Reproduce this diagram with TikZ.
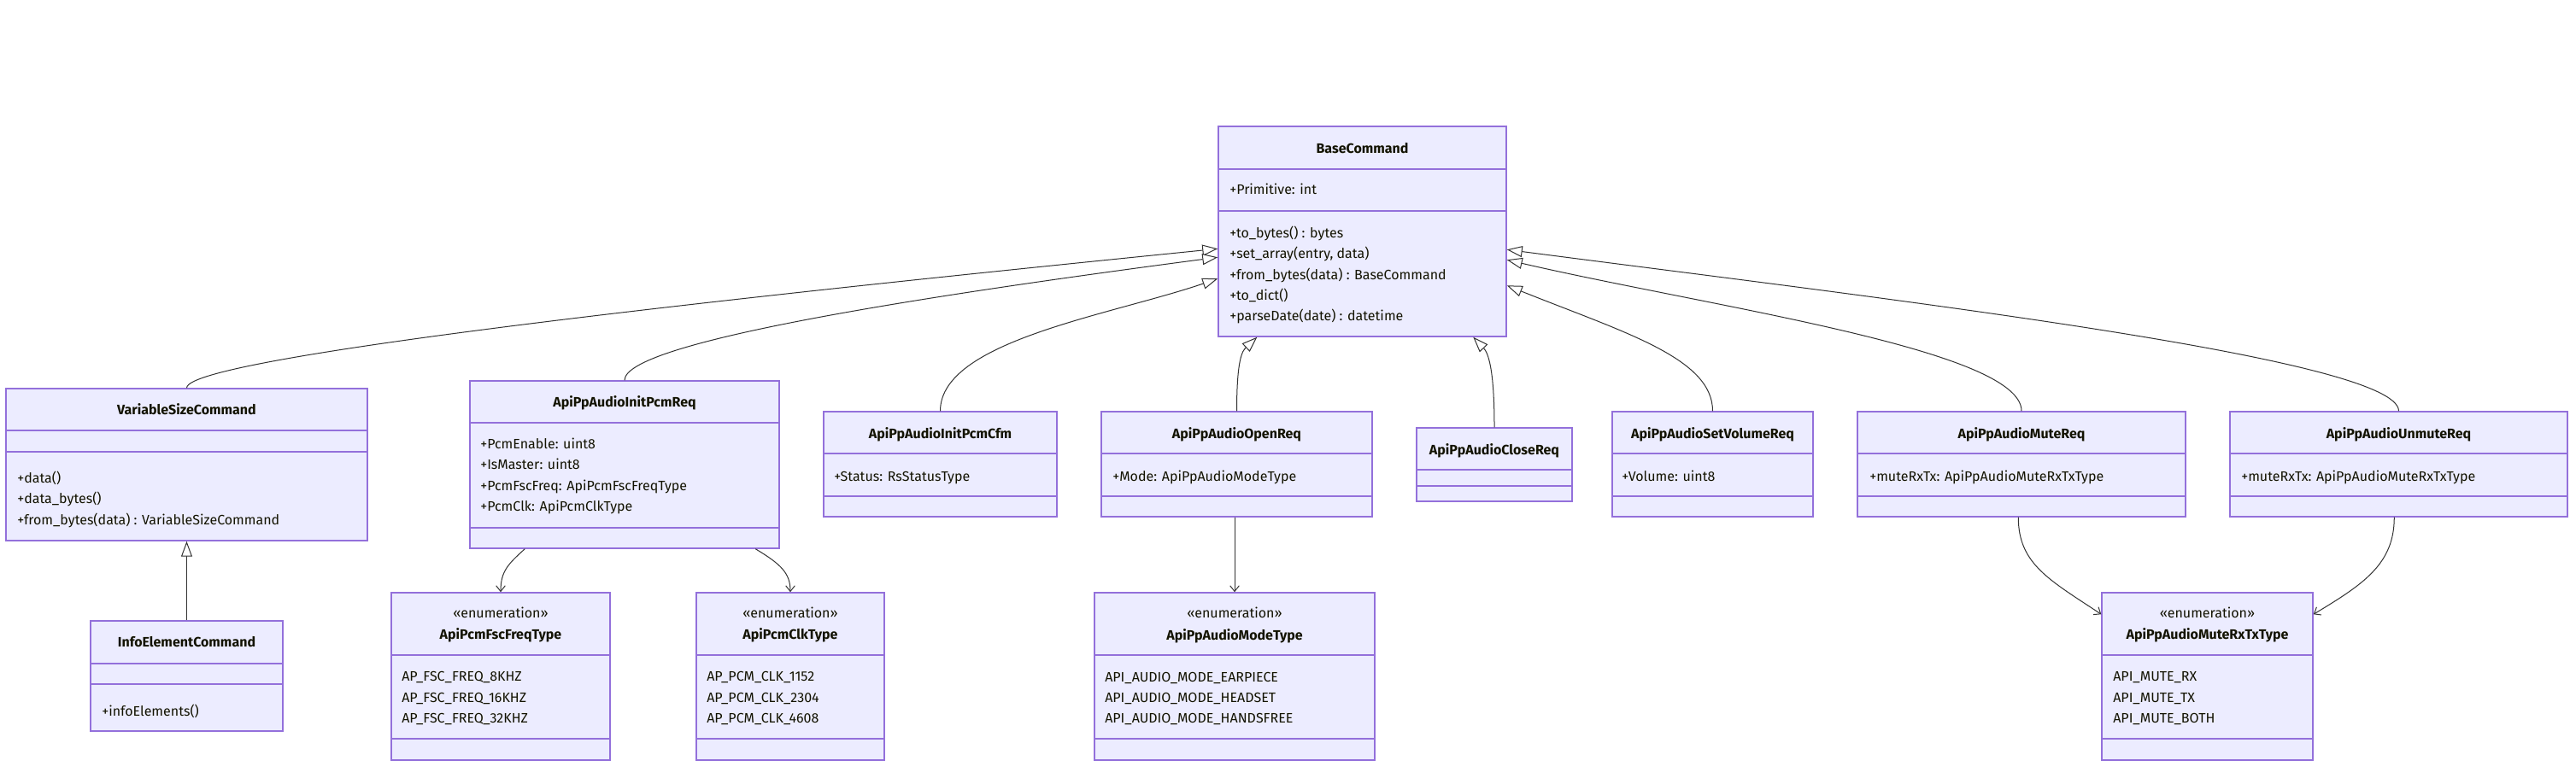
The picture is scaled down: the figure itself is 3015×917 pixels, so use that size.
\documentclass[tikz,border=0pt]{standalone}
\usepackage{fontspec}
\setmainfont{Fira Sans}
\usetikzlibrary{arrows.meta,fit,calc}
\definecolor{boxfill}{HTML}{ECECFF}
\definecolor{boxdraw}{HTML}{9370DB}
\definecolor{edgec}{HTML}{333333}
\definecolor{txt}{HTML}{131300}
\newcommand\dfont{\fontsize{12pt}{14.4pt}\selectfont}
\begin{document}
\begin{tikzpicture}[x=0.75pt,y=-0.75pt,
  cls/.style={draw=boxdraw,fill=boxfill,line width=1.1pt,inner sep=0pt},
  divl/.style={draw=boxdraw,line width=1.1pt},
  ttl/.style={font=\dfont\bfseries,text=txt,inner sep=0pt,anchor=base},
  stereo/.style={font=\dfont,text=txt,inner sep=0pt,anchor=base},
  mem/.style={font=\dfont,text=txt,inner sep=0pt,anchor=base west},
  inh/.style={draw=edgec,line width=0.75pt,-{Triangle[open,fill=white,length=13.5pt,width=9.75pt]}},
  assoc/.style={draw=edgec,line width=0.75pt,-{Straight Barb[length=5pt,width=8pt]}}]
\useasboundingbox[fill=white] (0,0) rectangle (3015,917);

% ---------- BaseCommand
\node[cls,fit={(1426,148) (1763,394)}] (base) {};
\draw[divl] (1426,198) -- (1763,198);
\draw[divl] (1426,247) -- (1763,247);
\node[ttl] (baseT) at (1594.5,179) {BaseCommand};
\node[mem] (baseA) at (1439,227) {+Primitive: int};
\node[mem] (baseM1) at (1439,278) {+to\_bytes() : bytes};
\node[mem] (baseM2) at (1439,302) {+set\_array(entry, data)};
\node[mem] (baseM3) at (1439,327) {+from\_bytes(data) : BaseCommand};
\node[mem] (baseM4) at (1439,351) {+to\_dict()};
\node[mem] (baseM5) at (1439,375) {+parseDate(date) : datetime};

% ---------- VariableSizeCommand
\node[cls,fit={(7,455) (430,633)}] (vsc) {};
\draw[divl] (7,504) -- (430,504);
\draw[divl] (7,529) -- (430,529);
\node[ttl] (vscT) at (218.5,485) {VariableSizeCommand};
\node[mem] (vscM1) at (20,565) {+data()};
\node[mem] (vscM2) at (20,589) {+data\_bytes()};
\node[mem] (vscM3) at (20,614) {+from\_bytes(data) : VariableSizeCommand};

% ---------- InfoElementCommand
\node[cls,fit={(106,727) (331,856)}] (iec) {};
\draw[divl] (106,777) -- (331,777);
\draw[divl] (106,801) -- (331,801);
\node[ttl] (iecT) at (218.5,757) {InfoElementCommand};
\node[mem] (iecM1) at (119,838) {+infoElements()};

% ---------- ApiPpAudioInitPcmReq
\node[cls,fit={(550,446) (912,642)}] (ireq) {};
\draw[divl] (550,495) -- (912,495);
\draw[divl] (550,618) -- (912,618);
\node[ttl] (ireqT) at (731,476) {ApiPpAudioInitPcmReq};
\node[mem] (ireqA1) at (562,525) {+PcmEnable: uint8};
\node[mem] (ireqA2) at (562,549) {+IsMaster: uint8};
\node[mem] (ireqA3) at (562,574) {+PcmFscFreq: ApiPcmFscFreqType};
\node[mem] (ireqA4) at (562,598) {+PcmClk: ApiPcmClkType};

% ---------- ApiPcmFscFreqType
\node[cls,fit={(458,694) (714,890)}] (fsc) {};
\draw[divl] (458,767) -- (714,767);
\draw[divl] (458,865) -- (714,865);
\node[stereo] (fscS) at (586,723) {«enumeration»};
\node[ttl] (fscT) at (586,748) {ApiPcmFscFreqType};
\node[mem] (fscV1) at (470,797) {AP\_FSC\_FREQ\_8KHZ};
\node[mem] (fscV2) at (470,822) {AP\_FSC\_FREQ\_16KHZ};
\node[mem] (fscV3) at (470,846) {AP\_FSC\_FREQ\_32KHZ};

% ---------- ApiPcmClkType
\node[cls,fit={(815,694) (1035,890)}] (clk) {};
\draw[divl] (815,767) -- (1035,767);
\draw[divl] (815,865) -- (1035,865);
\node[stereo] (clkS) at (925,723) {«enumeration»};
\node[ttl] (clkT) at (925,748) {ApiPcmClkType};
\node[mem] (clkV1) at (827,797) {AP\_PCM\_CLK\_1152};
\node[mem] (clkV2) at (827,822) {AP\_PCM\_CLK\_2304};
\node[mem] (clkV3) at (827,846) {AP\_PCM\_CLK\_4608};

% ---------- ApiPpAudioInitPcmCfm
\node[cls,fit={(964,482) (1237,605)}] (icfm) {};
\draw[divl] (964,531) -- (1237,531);
\draw[divl] (964,581) -- (1237,581);
\node[ttl] (icfmT) at (1100.5,513) {ApiPpAudioInitPcmCfm};
\node[mem] (icfmA1) at (976,563) {+Status: RsStatusType};

% ---------- ApiPpAudioOpenReq
\node[cls,fit={(1289,482) (1606,605)}] (open) {};
\draw[divl] (1289,531) -- (1606,531);
\draw[divl] (1289,581) -- (1606,581);
\node[ttl] (openT) at (1447.5,513) {ApiPpAudioOpenReq};
\node[mem] (openA1) at (1302,563) {+Mode: ApiPpAudioModeType};

% ---------- ApiPpAudioCloseReq
\node[cls,fit={(1658,501) (1840,587)}] (close) {};
\draw[divl] (1658,550) -- (1840,550);
\draw[divl] (1658,569) -- (1840,569);
\node[ttl] (closeT) at (1749,532) {ApiPpAudioCloseReq};

% ---------- ApiPpAudioModeType
\node[cls,fit={(1281,694) (1609,890)}] (mode) {};
\draw[divl] (1281,767) -- (1609,767);
\draw[divl] (1281,865) -- (1609,865);
\node[stereo] (modeS) at (1445,723) {«enumeration»};
\node[ttl] (modeT) at (1445,749) {ApiPpAudioModeType};
\node[mem] (modeV1) at (1293,798) {API\_AUDIO\_MODE\_EARPIECE};
\node[mem] (modeV2) at (1293,822) {API\_AUDIO\_MODE\_HEADSET};
\node[mem] (modeV3) at (1293,846) {API\_AUDIO\_MODE\_HANDSFREE};

% ---------- ApiPpAudioSetVolumeReq
\node[cls,fit={(1887,482) (2122,605)}] (vol) {};
\draw[divl] (1887,531) -- (2122,531);
\draw[divl] (1887,581) -- (2122,581);
\node[ttl] (volT) at (2004.5,513) {ApiPpAudioSetVolumeReq};
\node[mem] (volA1) at (1898,563) {+Volume: uint8};

% ---------- ApiPpAudioMuteReq
\node[cls,fit={(2174,482) (2558,605)}] (mute) {};
\draw[divl] (2174,531) -- (2558,531);
\draw[divl] (2174,581) -- (2558,581);
\node[ttl] (muteT) at (2366,513) {ApiPpAudioMuteReq};
\node[mem] (muteA1) at (2188,563) {+muteRxTx: ApiPpAudioMuteRxTxType};

% ---------- ApiPpAudioUnmuteReq
\node[cls,fit={(2610,482) (3005,605)}] (unmute) {};
\draw[divl] (2610,531) -- (3005,531);
\draw[divl] (2610,581) -- (3005,581);
\node[ttl] (unmuteT) at (2807.5,513) {ApiPpAudioUnmuteReq};
\node[mem] (unmuteA1) at (2623,563) {+muteRxTx: ApiPpAudioMuteRxTxType};

% ---------- ApiPpAudioMuteRxTxType
\node[cls,fit={(2460,694) (2707,890)}] (rxtx) {};
\draw[divl] (2460,767) -- (2707,767);
\draw[divl] (2460,865) -- (2707,865);
\node[stereo] (rxtxS) at (2583.5,723) {«enumeration»};
\node[ttl] (rxtxT) at (2583.5,748) {ApiPpAudioMuteRxTxType};
\node[mem] (rxtxV1) at (2473,797) {API\_MUTE\_RX};
\node[mem] (rxtxV2) at (2473,822) {API\_MUTE\_TX};
\node[mem] (rxtxV3) at (2473,846) {API\_MUTE\_BOTH};

% ---------- inheritance edges
\draw[inh] (vsc.north) .. controls +(0,-40) and +(-426,43) .. ($(base.north west)+(0,144)$);
\draw[inh] (ireq.north) .. controls +(0,-46) and +(-326,43) .. ($(base.north west)+(0,154)$);
\draw[inh] (icfm.north) .. controls +(0,-82) and +(-126,43) .. ($(base.north west)+(0,179)$);
\draw[inh] (open.north) .. controls +(0,-62) and +(-17,16) .. ($(base.south west)+(46,0)$);
\draw[inh] (close.north) .. controls +(0,-71) and +(17,18) .. ($(base.south west)+(299,0)$);
\draw[inh] (vol.north) .. controls +(0,-62) and +(137,55) .. ($(base.north east)+(0,187)$);
\draw[inh] (mute.north) .. controls +(0,-72) and +(237,55) .. ($(base.north east)+(0,157)$);
\draw[inh] (unmute.north) .. controls +(0,-62) and +(437,57) .. ($(base.north east)+(0,145)$);
\draw[inh] (iec.north) -- (vsc.south);

% ---------- association edges
\draw[assoc] ($(ireq.south west)+(65,0)$) .. controls +(-20,18) and +(0,-24) .. (fsc.north);
\draw[assoc] ($(ireq.south west)+(335,0)$) .. controls +(30,18) and +(0,-22) .. (clk.north);
\draw[assoc] (open.south -| mode.north) -- (mode.north);
\draw[assoc] ($(mute.south west)+(189,0)$) .. controls +(0,55) and +(-60,-40) .. ($(rxtx.north west)+(0,26)$);
\draw[assoc] ($(unmute.south west)+(193,0)$) .. controls +(0,55) and +(58,-35) .. ($(rxtx.north east)+(0,26)$);
\end{tikzpicture}
\end{document}
